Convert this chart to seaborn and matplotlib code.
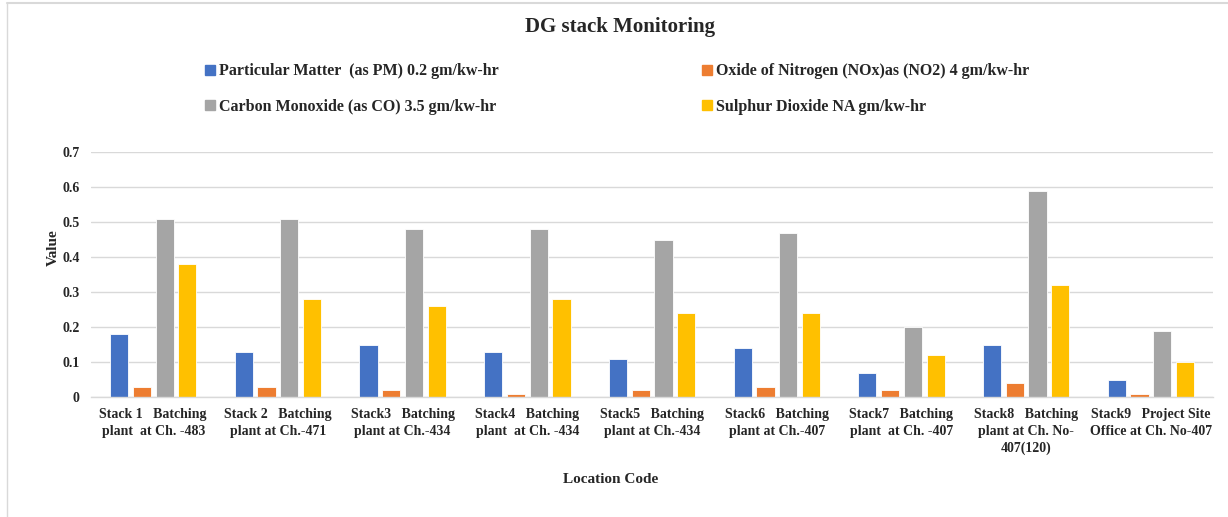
import matplotlib
matplotlib.use("Agg")
import matplotlib.pyplot as plt
import seaborn as sns
import pandas as pd
from matplotlib.lines import Line2D

# Location codes (x-axis categories)
locations = [
    "Stack 1   Batching\nplant  at Ch. -483",
    "Stack 2   Batching\nplant at Ch.-471",
    "Stack3   Batching\nplant at Ch.-434",
    "Stack4   Batching\nplant  at Ch. -434",
    "Stack5   Batching\nplant at Ch.-434",
    "Stack6   Batching\nplant at Ch.-407",
    "Stack7   Batching\nplant  at Ch. -407",
    "Stack8   Batching\nplant at Ch. No-\n407(120)",
    "Stack9   Project Site\nOffice at Ch. No-407",
]

series_names = [
    "Particular Matter  (as PM) 0.2 gm/kw-hr",
    "Oxide of Nitrogen (NOx)as (NO2) 4 gm/kw-hr",
    "Carbon Monoxide (as CO) 3.5 gm/kw-hr",
    "Sulphur Dioxide NA gm/kw-hr",
]

pm_values = [0.18, 0.13, 0.15, 0.13, 0.11, 0.14, 0.07, 0.15, 0.05]
nox_values = [0.03, 0.03, 0.02, 0.01, 0.02, 0.03, 0.02, 0.04, 0.01]
co_values = [0.51, 0.51, 0.48, 0.48, 0.45, 0.47, 0.20, 0.59, 0.19]
so2_values = [0.38, 0.28, 0.26, 0.28, 0.24, 0.24, 0.12, 0.32, 0.10]

y_ticks = [0, 0.1, 0.2, 0.3, 0.4, 0.5, 0.6, 0.7]
y_tick_labels = ["0", "0.1", "0.2", "0.3", "0.4", "0.5", "0.6", "0.7"]

colors = ["#4472C4", "#ED7D31", "#A5A5A5", "#FFC000"]

rows = []
for name, vals in zip(series_names, [pm_values, nox_values, co_values, so2_values]):
    for loc, v in zip(locations, vals):
        rows.append({"Location": loc, "Parameter": name, "Value": v})
df = pd.DataFrame(rows)

sns.set_theme(style="white")
plt.rcParams["font.family"] = ["Liberation Serif", "DejaVu Serif"]
plt.rcParams["font.weight"] = "bold"

fig = plt.figure(figsize=(12.28, 5.17), dpi=100)
ax = fig.add_axes([0.074, 0.232, 0.914, 0.474])

sns.barplot(
    data=df, x="Location", y="Value", hue="Parameter",
    order=locations, hue_order=series_names, palette=colors, saturation=1,
    width=0.73, gap=0.2, edgecolor="white", linewidth=0.6,
    legend=False, ax=ax,
)

ax.set_ylim(0, 0.7)
ax.set_xlim(-0.5, len(locations) - 0.5)
ax.set_yticks(y_ticks)
ax.set_yticklabels(y_tick_labels, fontsize=10, fontweight="bold")
ax.set_xticks(range(len(locations)))
ax.set_xticklabels(locations, fontsize=10, fontweight="bold", linespacing=1.35)
ax.tick_params(axis="y", length=0, pad=8)
ax.tick_params(axis="x", length=0, pad=8)

ax.grid(axis="y", color="#D9D9D9", linewidth=1.0)
ax.set_axisbelow(True)
for side in ["top", "right", "left"]:
    ax.spines[side].set_visible(False)
ax.spines["bottom"].set_color("#D9D9D9")
ax.spines["bottom"].set_linewidth(1.0)

ax.set_ylabel("Value", fontsize=11, fontweight="bold")
ax.yaxis.set_label_coords(-0.028, 0.61)
ax.set_xlabel("Location Code", fontsize=11, fontweight="bold")
ax.xaxis.set_label_coords(0.463, -0.31)

fig.text(0.505, 0.948, "DG stack Monitoring", fontsize=15, fontweight="bold",
         ha="center", va="center")

# Legend laid out in two columns: PM / CO on the left, NOx / SO2 on the right
legend_order = [0, 2, 1, 3]
handles = [Line2D([0], [0], marker="s", linestyle="", markersize=7,
                  markerfacecolor=colors[i], markeredgecolor=colors[i])
           for i in legend_order]
labels = [series_names[i] for i in legend_order]
fig.legend(handles, labels, ncol=2, loc="upper left", bbox_to_anchor=(0.1555, 0.905),
           frameon=False, prop={"weight": "bold", "size": 11.5},
           handlelength=0.6, handletextpad=0.25, columnspacing=12.75, labelspacing=1.2)

# Light frame around the chart area
fig.add_artist(Line2D([0.006, 1.0], [0.994, 0.994], transform=fig.transFigure,
                      color="#D9D9D9", linewidth=1.5))
fig.add_artist(Line2D([0.006, 0.006], [0.0, 0.994], transform=fig.transFigure,
                      color="#D9D9D9", linewidth=1.0))

fig.savefig("out.png", dpi=100)
